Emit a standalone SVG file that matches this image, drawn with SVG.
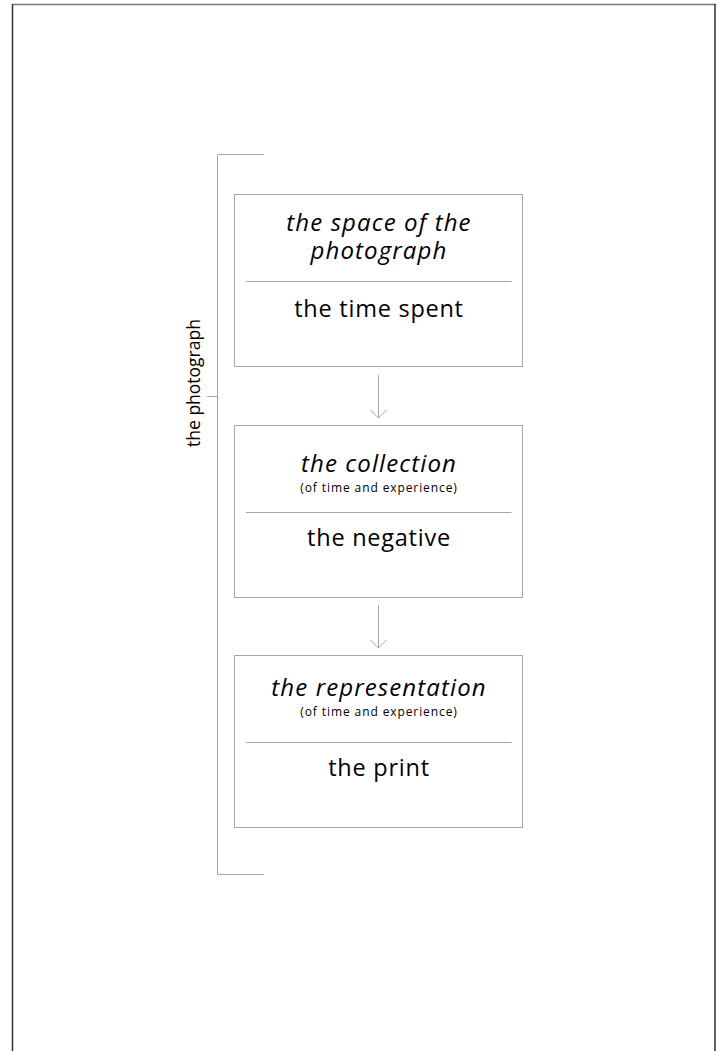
<svg xmlns="http://www.w3.org/2000/svg" width="723" height="1051" viewBox="0 0 723 1051">
<defs>
<style>
.box{fill:#fff;stroke:#a6a6a6;stroke-width:1}
.div{stroke:#a6a6a6;stroke-width:1}
.ln{stroke:#a6a6a6;stroke-width:1;fill:none}
.t{font-family:"Open Sans","Noto Sans","Liberation Sans",sans-serif;fill:#000;text-anchor:middle;font-variant-ligatures:none}
.it{font-style:italic;font-size:24px;letter-spacing:1.1px}
.main{font-size:23.5px;letter-spacing:0.75px}
.sub{font-style:normal;font-size:12px;letter-spacing:0.9px}
</style>
<marker id="ah" markerWidth="20" markerHeight="20" refX="9" refY="9" orient="auto" markerUnits="userSpaceOnUse">
<path d="M1,1 L9,9 L1,17" fill="none" stroke="#a6a6a6" stroke-width="1"/>
</marker>
</defs>
<rect width="723" height="1051" fill="#fff"/>
<g id="frame">
<line x1="12" y1="4.5" x2="716" y2="4.5" stroke="#777" stroke-width="1.5"/>
<line x1="12.5" y1="4" x2="12.5" y2="1051" stroke="#333" stroke-width="1.5"/>
<line x1="715" y1="4" x2="715" y2="1051" stroke="#333" stroke-width="1.5"/>
</g>
<g id="bracket">
<path class="ln" d="M264,154.5 H217.5 V874.5 H264"/>
<line class="ln" x1="207" y1="396.5" x2="217.5" y2="396.5"/>
<text class="t" style="font-size:17.5px" transform="translate(200,383) rotate(-90)">the photograph</text>
</g>
<g id="connectors">
<line class="ln" x1="378.5" y1="375" x2="378.5" y2="418" marker-end="url(#ah)"/>
<line class="ln" x1="378.5" y1="605" x2="378.5" y2="648" marker-end="url(#ah)"/>
</g>
<g id="node1">
<rect class="box" x="234.5" y="194.5" width="288" height="172"/>
<text class="t it"><tspan x="379" y="230.5">the space of the</tspan><tspan x="379" y="258.5">photograph</tspan></text>
<line class="div" x1="246" y1="281.5" x2="511.5" y2="281.5"/>
<text class="t main" x="379" y="317">the time spent</text>
</g>
<g id="node2">
<rect class="box" x="234.5" y="425.5" width="288" height="172"/>
<text class="t"><tspan class="it" x="379" y="472">the collection</tspan><tspan class="sub" x="379" y="492">(of time and experience)</tspan></text>
<line class="div" x1="246" y1="512.5" x2="511.5" y2="512.5"/>
<text class="t main" x="379" y="546">the negative</text>
</g>
<g id="node3">
<rect class="box" x="234.5" y="655.5" width="288" height="172"/>
<text class="t"><tspan class="it" x="379" y="695.5">the representation</tspan><tspan class="sub" x="379" y="715.5">(of time and experience)</tspan></text>
<line class="div" x1="246" y1="742.5" x2="511.5" y2="742.5"/>
<text class="t main" x="379" y="776">the print</text>
</g>
</svg>
